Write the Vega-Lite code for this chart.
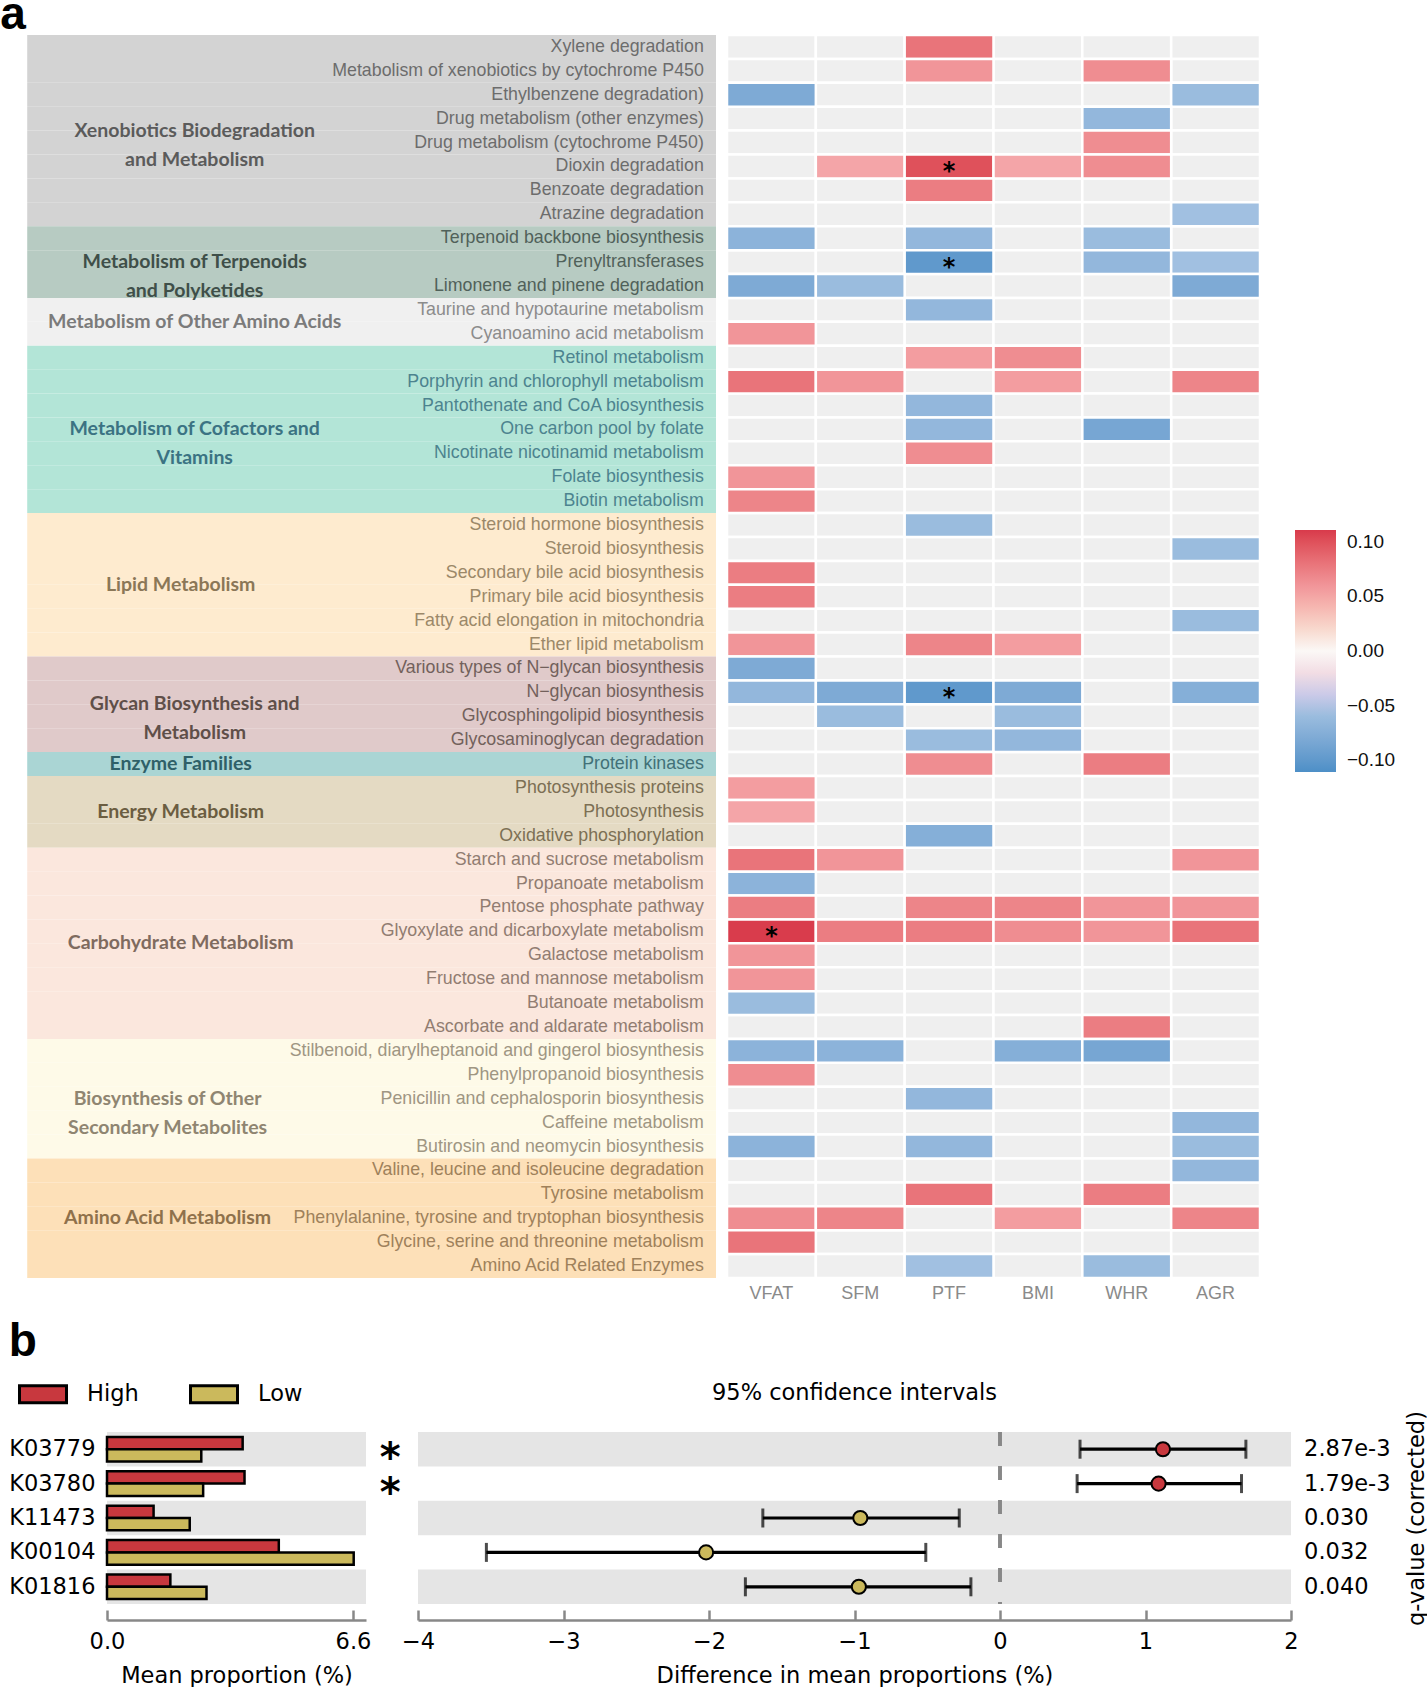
{
  "$schema": "https://vega.github.io/schema/vega-lite/v6.json",
  "padding": {"left": 0, "right": 0, "top": -8, "bottom": 0},
  "background": "white",
  "config": {"view": {"stroke": null}},
  "spacing": 17,
  "resolve": {"scale": {"fill": "independent", "color": "independent"}, "legend": {"fill": "independent", "color": "independent"}},
  "datasets": {
    "pathways": [
      {"p": "Xylene degradation", "cat": "Xenobiotics", "VFAT": 0, "SFM": 0, "PTF": 0.08, "BMI": 0, "WHR": 0, "AGR": 0},
      {"p": "Metabolism of xenobiotics by cytochrome P450", "cat": "Xenobiotics", "VFAT": 0, "SFM": 0, "PTF": 0.06, "BMI": 0, "WHR": 0.065, "AGR": 0},
      {"p": "Ethylbenzene degradation)", "cat": "Xenobiotics", "VFAT": -0.08, "SFM": 0, "PTF": 0, "BMI": 0, "WHR": 0, "AGR": -0.06},
      {"p": "Drug metabolism (other enzymes)", "cat": "Xenobiotics", "VFAT": 0, "SFM": 0, "PTF": 0, "BMI": 0, "WHR": -0.065, "AGR": 0},
      {"p": "Drug metabolism (cytochrome P450)", "cat": "Xenobiotics", "VFAT": 0, "SFM": 0, "PTF": 0, "BMI": 0, "WHR": 0.065, "AGR": 0},
      {"p": "Dioxin degradation", "cat": "Xenobiotics", "VFAT": 0, "SFM": 0.05, "PTF": 0.1, "BMI": 0.05, "WHR": 0.065, "AGR": 0, "sig": "PTF"},
      {"p": "Benzoate degradation", "cat": "Xenobiotics", "VFAT": 0, "SFM": 0, "PTF": 0.075, "BMI": 0, "WHR": 0, "AGR": 0},
      {"p": "Atrazine degradation", "cat": "Xenobiotics", "VFAT": 0, "SFM": 0, "PTF": 0, "BMI": 0, "WHR": 0, "AGR": -0.055},
      {"p": "Terpenoid backbone biosynthesis", "cat": "Terpenoids", "VFAT": -0.07, "SFM": 0, "PTF": -0.065, "BMI": 0, "WHR": -0.06, "AGR": 0},
      {"p": "Prenyltransferases", "cat": "Terpenoids", "VFAT": 0, "SFM": 0, "PTF": -0.1, "BMI": 0, "WHR": -0.065, "AGR": -0.055, "sig": "PTF"},
      {"p": "Limonene and pinene degradation", "cat": "Terpenoids", "VFAT": -0.08, "SFM": -0.06, "PTF": 0, "BMI": 0, "WHR": 0, "AGR": -0.08},
      {"p": "Taurine and hypotaurine metabolism", "cat": "OtherAA", "VFAT": 0, "SFM": 0, "PTF": -0.065, "BMI": 0, "WHR": 0, "AGR": 0},
      {"p": "Cyanoamino acid metabolism", "cat": "OtherAA", "VFAT": 0.06, "SFM": 0, "PTF": 0, "BMI": 0, "WHR": 0, "AGR": 0},
      {"p": "Retinol metabolism", "cat": "Cofactors", "VFAT": 0, "SFM": 0, "PTF": 0.055, "BMI": 0.065, "WHR": 0, "AGR": 0},
      {"p": "Porphyrin and chlorophyll metabolism", "cat": "Cofactors", "VFAT": 0.08, "SFM": 0.06, "PTF": 0, "BMI": 0.055, "WHR": 0, "AGR": 0.07},
      {"p": "Pantothenate and CoA biosynthesis", "cat": "Cofactors", "VFAT": 0, "SFM": 0, "PTF": -0.065, "BMI": 0, "WHR": 0, "AGR": 0},
      {"p": "One carbon pool by folate", "cat": "Cofactors", "VFAT": 0, "SFM": 0, "PTF": -0.065, "BMI": 0, "WHR": -0.085, "AGR": 0},
      {"p": "Nicotinate nicotinamid metabolism", "cat": "Cofactors", "VFAT": 0, "SFM": 0, "PTF": 0.065, "BMI": 0, "WHR": 0, "AGR": 0},
      {"p": "Folate biosynthesis", "cat": "Cofactors", "VFAT": 0.06, "SFM": 0, "PTF": 0, "BMI": 0, "WHR": 0, "AGR": 0},
      {"p": "Biotin metabolism", "cat": "Cofactors", "VFAT": 0.07, "SFM": 0, "PTF": 0, "BMI": 0, "WHR": 0, "AGR": 0},
      {"p": "Steroid hormone biosynthesis", "cat": "Lipid", "VFAT": 0, "SFM": 0, "PTF": -0.06, "BMI": 0, "WHR": 0, "AGR": 0},
      {"p": "Steroid biosynthesis", "cat": "Lipid", "VFAT": 0, "SFM": 0, "PTF": 0, "BMI": 0, "WHR": 0, "AGR": -0.06},
      {"p": "Secondary bile acid biosynthesis", "cat": "Lipid", "VFAT": 0.075, "SFM": 0, "PTF": 0, "BMI": 0, "WHR": 0, "AGR": 0},
      {"p": "Primary bile acid biosynthesis", "cat": "Lipid", "VFAT": 0.075, "SFM": 0, "PTF": 0, "BMI": 0, "WHR": 0, "AGR": 0},
      {"p": "Fatty acid elongation in mitochondria", "cat": "Lipid", "VFAT": 0, "SFM": 0, "PTF": 0, "BMI": 0, "WHR": 0, "AGR": -0.06},
      {"p": "Ether lipid metabolism", "cat": "Lipid", "VFAT": 0.06, "SFM": 0, "PTF": 0.07, "BMI": 0.055, "WHR": 0, "AGR": 0},
      {"p": "Various types of N−glycan biosynthesis", "cat": "Glycan", "VFAT": -0.08, "SFM": 0, "PTF": 0, "BMI": 0, "WHR": 0, "AGR": 0},
      {"p": "N−glycan biosynthesis", "cat": "Glycan", "VFAT": -0.065, "SFM": -0.08, "PTF": -0.1, "BMI": -0.08, "WHR": 0, "AGR": -0.075, "sig": "PTF"},
      {"p": "Glycosphingolipid biosynthesis", "cat": "Glycan", "VFAT": 0, "SFM": -0.06, "PTF": 0, "BMI": -0.06, "WHR": 0, "AGR": 0},
      {"p": "Glycosaminoglycan degradation", "cat": "Glycan", "VFAT": 0, "SFM": 0, "PTF": -0.06, "BMI": -0.065, "WHR": 0, "AGR": 0},
      {"p": "Protein kinases", "cat": "Enzyme", "VFAT": 0, "SFM": 0, "PTF": 0.065, "BMI": 0, "WHR": 0.075, "AGR": 0},
      {"p": "Photosynthesis proteins", "cat": "Energy", "VFAT": 0.055, "SFM": 0, "PTF": 0, "BMI": 0, "WHR": 0, "AGR": 0},
      {"p": "Photosynthesis", "cat": "Energy", "VFAT": 0.05, "SFM": 0, "PTF": 0, "BMI": 0, "WHR": 0, "AGR": 0},
      {"p": "Oxidative phosphorylation", "cat": "Energy", "VFAT": 0, "SFM": 0, "PTF": -0.075, "BMI": 0, "WHR": 0, "AGR": 0},
      {"p": "Starch and sucrose metabolism", "cat": "Carbohydrate", "VFAT": 0.08, "SFM": 0.06, "PTF": 0, "BMI": 0, "WHR": 0, "AGR": 0.06},
      {"p": "Propanoate metabolism", "cat": "Carbohydrate", "VFAT": -0.07, "SFM": 0, "PTF": 0, "BMI": 0, "WHR": 0, "AGR": 0},
      {"p": "Pentose phosphate pathway", "cat": "Carbohydrate", "VFAT": 0.075, "SFM": 0, "PTF": 0.07, "BMI": 0.07, "WHR": 0.06, "AGR": 0.06},
      {"p": "Glyoxylate and dicarboxylate metabolism", "cat": "Carbohydrate", "VFAT": 0.11, "SFM": 0.075, "PTF": 0.075, "BMI": 0.065, "WHR": 0.06, "AGR": 0.08, "sig": "VFAT"},
      {"p": "Galactose metabolism", "cat": "Carbohydrate", "VFAT": 0.06, "SFM": 0, "PTF": 0, "BMI": 0, "WHR": 0, "AGR": 0},
      {"p": "Fructose and mannose metabolism", "cat": "Carbohydrate", "VFAT": 0.06, "SFM": 0, "PTF": 0, "BMI": 0, "WHR": 0, "AGR": 0},
      {"p": "Butanoate metabolism", "cat": "Carbohydrate", "VFAT": -0.06, "SFM": 0, "PTF": 0, "BMI": 0, "WHR": 0, "AGR": 0},
      {"p": "Ascorbate and aldarate metabolism", "cat": "Carbohydrate", "VFAT": 0, "SFM": 0, "PTF": 0, "BMI": 0, "WHR": 0.075, "AGR": 0},
      {"p": "Stilbenoid, diarylheptanoid and gingerol biosynthesis", "cat": "SecMet", "VFAT": -0.07, "SFM": -0.07, "PTF": 0, "BMI": -0.075, "WHR": -0.085, "AGR": 0},
      {"p": "Phenylpropanoid biosynthesis", "cat": "SecMet", "VFAT": 0.065, "SFM": 0, "PTF": 0, "BMI": 0, "WHR": 0, "AGR": 0},
      {"p": "Penicillin and cephalosporin biosynthesis", "cat": "SecMet", "VFAT": 0, "SFM": 0, "PTF": -0.065, "BMI": 0, "WHR": 0, "AGR": 0},
      {"p": "Caffeine metabolism", "cat": "SecMet", "VFAT": 0, "SFM": 0, "PTF": 0, "BMI": 0, "WHR": 0, "AGR": -0.065},
      {"p": "Butirosin and neomycin biosynthesis", "cat": "SecMet", "VFAT": -0.07, "SFM": 0, "PTF": -0.065, "BMI": 0, "WHR": 0, "AGR": -0.06},
      {"p": "Valine, leucine and isoleucine degradation", "cat": "AminoAcid", "VFAT": 0, "SFM": 0, "PTF": 0, "BMI": 0, "WHR": 0, "AGR": -0.065},
      {"p": "Tyrosine metabolism", "cat": "AminoAcid", "VFAT": 0, "SFM": 0, "PTF": 0.08, "BMI": 0, "WHR": 0.075, "AGR": 0},
      {"p": "Phenylalanine, tyrosine and tryptophan biosynthesis", "cat": "AminoAcid", "VFAT": 0.065, "SFM": 0.07, "PTF": 0, "BMI": 0.055, "WHR": 0, "AGR": 0.07},
      {"p": "Glycine, serine and threonine metabolism", "cat": "AminoAcid", "VFAT": 0.08, "SFM": 0, "PTF": 0, "BMI": 0, "WHR": 0, "AGR": 0},
      {"p": "Amino Acid Related Enzymes", "cat": "AminoAcid", "VFAT": 0, "SFM": 0, "PTF": -0.055, "BMI": 0, "WHR": -0.06, "AGR": 0}
    ],
    "cats": [
      {"cat": "Xenobiotics", "label": "Xenobiotics Biodegradation|and Metabolism", "mid": "Drug metabolism (cytochrome P450)"},
      {"cat": "Terpenoids", "label": "Metabolism of Terpenoids|and Polyketides", "mid": "Prenyltransferases"},
      {"cat": "OtherAA", "label": "Metabolism of Other Amino Acids", "mid": "Cyanoamino acid metabolism"},
      {"cat": "Cofactors", "label": "Metabolism of Cofactors and|Vitamins", "mid": "One carbon pool by folate"},
      {"cat": "Lipid", "label": "Lipid Metabolism", "mid": "Primary bile acid biosynthesis"},
      {"cat": "Glycan", "label": "Glycan Biosynthesis and|Metabolism", "mid": "Glycosphingolipid biosynthesis"},
      {"cat": "Enzyme", "label": "Enzyme Families", "mid": "Protein kinases"},
      {"cat": "Energy", "label": "Energy Metabolism", "mid": "Photosynthesis"},
      {"cat": "Carbohydrate", "label": "Carbohydrate Metabolism", "mid": "Galactose metabolism"},
      {"cat": "SecMet", "label": "Biosynthesis of Other|Secondary Metabolites", "mid": "Penicillin and cephalosporin biosynthesis"},
      {"cat": "AminoAcid", "label": "Amino Acid Metabolism", "mid": "Phenylalanine, tyrosine and tryptophan biosynthesis"}
    ],
    "features": [
      {"k": "K03779", "High": 3.64, "Low": 2.53, "diff": 1.12, "lo": 0.55, "hi": 1.69, "q": "2.87e-3", "sig": "*", "grp": "High"},
      {"k": "K03780", "High": 3.69, "Low": 2.58, "diff": 1.09, "lo": 0.53, "hi": 1.66, "q": "1.79e-3", "sig": "*", "grp": "High"},
      {"k": "K11473", "High": 1.25, "Low": 2.22, "diff": -0.96, "lo": -1.63, "hi": -0.28, "q": "0.030", "sig": "", "grp": "Low"},
      {"k": "K00104", "High": 4.61, "Low": 6.62, "diff": -2.02, "lo": -3.53, "hi": -0.51, "q": "0.032", "sig": "", "grp": "Low"},
      {"k": "K01816", "High": 1.7, "Low": 2.67, "diff": -0.97, "lo": -1.75, "hi": -0.2, "q": "0.040", "sig": "", "grp": "Low"}
    ]
  },
  "vconcat": [
    {
      "title": {"text": "a", "anchor": "start", "fontSize": 46, "fontWeight": "bold", "font": "Liberation Sans", "color": "black", "offset": -5.4, "dx": -27},
      "spacing": 9,
      "resolve": {"scale": {"fill": "independent", "color": "independent"}, "legend": {"fill": "independent", "color": "independent"}},
      "hconcat": [
        {
          "width": 609,
          "height": 1243,
          "layer": [
            {
              "data": {"name": "pathways"},
              "mark": {"type": "rect"},
              "encoding": {
                "y": {"field": "p", "type": "nominal", "axis": null,
                  "scale": {"paddingInner": 0, "paddingOuter": 0, "domain": ["Xylene degradation", "Metabolism of xenobiotics by cytochrome P450", "Ethylbenzene degradation)", "Drug metabolism (other enzymes)", "Drug metabolism (cytochrome P450)", "Dioxin degradation", "Benzoate degradation", "Atrazine degradation", "Terpenoid backbone biosynthesis", "Prenyltransferases", "Limonene and pinene degradation", "Taurine and hypotaurine metabolism", "Cyanoamino acid metabolism", "Retinol metabolism", "Porphyrin and chlorophyll metabolism", "Pantothenate and CoA biosynthesis", "One carbon pool by folate", "Nicotinate nicotinamid metabolism", "Folate biosynthesis", "Biotin metabolism", "Steroid hormone biosynthesis", "Steroid biosynthesis", "Secondary bile acid biosynthesis", "Primary bile acid biosynthesis", "Fatty acid elongation in mitochondria", "Ether lipid metabolism", "Various types of N−glycan biosynthesis", "N−glycan biosynthesis", "Glycosphingolipid biosynthesis", "Glycosaminoglycan degradation", "Protein kinases", "Photosynthesis proteins", "Photosynthesis", "Oxidative phosphorylation", "Starch and sucrose metabolism", "Propanoate metabolism", "Pentose phosphate pathway", "Glyoxylate and dicarboxylate metabolism", "Galactose metabolism", "Fructose and mannose metabolism", "Butanoate metabolism", "Ascorbate and aldarate metabolism", "Stilbenoid, diarylheptanoid and gingerol biosynthesis", "Phenylpropanoid biosynthesis", "Penicillin and cephalosporin biosynthesis", "Caffeine metabolism", "Butirosin and neomycin biosynthesis", "Valine, leucine and isoleucine degradation", "Tyrosine metabolism", "Phenylalanine, tyrosine and tryptophan biosynthesis", "Glycine, serine and threonine metabolism", "Amino Acid Related Enzymes"]}},
                "x": {"datum": -13.1, "type": "quantitative", "scale": {"domain": [0, 100], "nice": false, "zero": false}, "axis": null},
                "x2": {"datum": 100},
                "fill": {"field": "cat", "type": "nominal", "legend": null,
                  "scale": {"domain": ["Xenobiotics", "Terpenoids", "OtherAA", "Cofactors", "Lipid", "Glycan", "Enzyme", "Energy", "Carbohydrate", "SecMet", "AminoAcid"],
                            "range": ["#d3d3d3", "#b7cbc2", "#f0f0f0", "#b3e5d7", "#feebcf", "#e0caca", "#aad5d4", "#e4dac3", "#fbe7dd", "#fefae8", "#fde0b8"]}}
              }
            },
            {
              "data": {"name": "pathways"},
              "mark": {"type": "text", "align": "right", "baseline": "middle", "font": "Liberation Sans", "fontSize": 17.8, "opacity": 0.85},
              "encoding": {
                "y": {"field": "p", "type": "nominal"},
                "x": {"datum": 98.0, "type": "quantitative"},
                "text": {"field": "p"},
                "color": {"field": "cat", "type": "nominal", "legend": null,
                  "scale": {"domain": ["Xenobiotics", "Terpenoids", "OtherAA", "Cofactors", "Lipid", "Glycan", "Enzyme", "Energy", "Carbohydrate", "SecMet", "AminoAcid"],
                            "range": ["#5b5b5b", "#3f4f49", "#7b7b7b", "#3b7383", "#8b7757", "#5f4f49", "#2f6068", "#6b5d41", "#7f6b5f", "#8f8571", "#8f714b"]}}
              }
            },
            {
              "data": {"name": "cats"},
              "transform": [{"filter": {"field": "cat", "oneOf": ["Xenobiotics", "OtherAA", "Glycan"]}}],
              "mark": {"type": "text", "align": "center", "baseline": "middle", "font": "Lato", "fontWeight": "bold", "fontSize": 19.5, "lineBreak": "|", "lineHeight": 29},
              "encoding": {
                "y": {"field": "mid", "type": "nominal", "bandPosition": 0},
                "x": {"datum": 14.4, "type": "quantitative"},
                "text": {"field": "label"},
                "color": {"field": "cat", "type": "nominal", "legend": null}
              }
            },
            {
              "data": {"name": "cats"},
              "transform": [{"filter": {"field": "cat", "oneOf": ["Lipid", "Carbohydrate"]}}],
              "mark": {"type": "text", "align": "center", "baseline": "middle", "font": "Lato", "fontWeight": "bold", "fontSize": 19.5, "lineBreak": "|", "lineHeight": 29},
              "encoding": {
                "y": {"field": "mid", "type": "nominal", "bandPosition": 0},
                "x": {"datum": 12.1, "type": "quantitative"},
                "text": {"field": "label"},
                "color": {"field": "cat", "type": "nominal", "legend": null}
              }
            },
            {
              "data": {"name": "cats"},
              "transform": [{"filter": {"field": "cat", "oneOf": ["Terpenoids", "Cofactors"]}}],
              "mark": {"type": "text", "align": "center", "baseline": "middle", "font": "Lato", "fontWeight": "bold", "fontSize": 19.5, "lineBreak": "|", "lineHeight": 29},
              "encoding": {
                "y": {"field": "mid", "type": "nominal", "bandPosition": 0.5},
                "x": {"datum": 14.4, "type": "quantitative"},
                "text": {"field": "label"},
                "color": {"field": "cat", "type": "nominal", "legend": null}
              }
            },
            {
              "data": {"name": "cats"},
              "transform": [{"filter": {"field": "cat", "oneOf": ["Enzyme", "Energy"]}}],
              "mark": {"type": "text", "align": "center", "baseline": "middle", "font": "Lato", "fontWeight": "bold", "fontSize": 19.5, "lineBreak": "|", "lineHeight": 29},
              "encoding": {
                "y": {"field": "mid", "type": "nominal", "bandPosition": 0.5},
                "x": {"datum": 12.1, "type": "quantitative"},
                "text": {"field": "label"},
                "color": {"field": "cat", "type": "nominal", "legend": null}
              }
            },
            {
              "data": {"name": "cats"},
              "transform": [{"filter": {"field": "cat", "oneOf": ["SecMet", "AminoAcid"]}}],
              "mark": {"type": "text", "align": "center", "baseline": "middle", "font": "Lato", "fontWeight": "bold", "fontSize": 19.5, "lineBreak": "|", "lineHeight": 29},
              "encoding": {
                "y": {"field": "mid", "type": "nominal", "bandPosition": 0.5},
                "x": {"datum": 9.95, "type": "quantitative"},
                "text": {"field": "label"},
                "color": {"field": "cat", "type": "nominal", "legend": null}
              }
            }
          ]
        },
        {
          "width": 533,
          "height": 1243,
          "data": {"name": "pathways"},
          "transform": [{"fold": ["VFAT", "SFM", "PTF", "BMI", "WHR", "AGR"], "as": ["trait", "r"]}],
          "encoding": {
            "x": {"field": "trait", "type": "nominal",
              "scale": {"domain": ["VFAT", "SFM", "PTF", "BMI", "WHR", "AGR"], "paddingInner": 0, "paddingOuter": 0},
              "axis": {"orient": "bottom", "title": null, "labelAngle": 0, "domain": false, "ticks": false, "labelColor": "#8a8a8a", "labelFontSize": 18, "labelFont": "Liberation Sans", "labelPadding": 6}},
            "y": {"field": "p", "type": "nominal", "axis": null,
              "scale": {"paddingInner": 0, "paddingOuter": 0, "domain": ["Xylene degradation", "Metabolism of xenobiotics by cytochrome P450", "Ethylbenzene degradation)", "Drug metabolism (other enzymes)", "Drug metabolism (cytochrome P450)", "Dioxin degradation", "Benzoate degradation", "Atrazine degradation", "Terpenoid backbone biosynthesis", "Prenyltransferases", "Limonene and pinene degradation", "Taurine and hypotaurine metabolism", "Cyanoamino acid metabolism", "Retinol metabolism", "Porphyrin and chlorophyll metabolism", "Pantothenate and CoA biosynthesis", "One carbon pool by folate", "Nicotinate nicotinamid metabolism", "Folate biosynthesis", "Biotin metabolism", "Steroid hormone biosynthesis", "Steroid biosynthesis", "Secondary bile acid biosynthesis", "Primary bile acid biosynthesis", "Fatty acid elongation in mitochondria", "Ether lipid metabolism", "Various types of N−glycan biosynthesis", "N−glycan biosynthesis", "Glycosphingolipid biosynthesis", "Glycosaminoglycan degradation", "Protein kinases", "Photosynthesis proteins", "Photosynthesis", "Oxidative phosphorylation", "Starch and sucrose metabolism", "Propanoate metabolism", "Pentose phosphate pathway", "Glyoxylate and dicarboxylate metabolism", "Galactose metabolism", "Fructose and mannose metabolism", "Butanoate metabolism", "Ascorbate and aldarate metabolism", "Stilbenoid, diarylheptanoid and gingerol biosynthesis", "Phenylpropanoid biosynthesis", "Penicillin and cephalosporin biosynthesis", "Caffeine metabolism", "Butirosin and neomycin biosynthesis", "Valine, leucine and isoleucine degradation", "Tyrosine metabolism", "Phenylalanine, tyrosine and tryptophan biosynthesis", "Glycine, serine and threonine metabolism", "Amino Acid Related Enzymes"]}}
          },
          "layer": [
            {"mark": {"type": "rect", "fill": "#efefef", "stroke": "white", "strokeWidth": 2.5}},
            {
              "transform": [{"filter": "datum.r != 0"}],
              "mark": {"type": "rect", "stroke": "white", "strokeWidth": 2.5},
              "encoding": {
                "fill": {"field": "r", "type": "quantitative",
                  "scale": {"type": "linear", "domain": [-0.111, -0.05, 0, 0.05, 0.111], "range": ["#4d8fc7", "#a8c5e3", "#fbf8f6", "#f4a5a8", "#d83a4b"]},
                  "legend": {"orient": "none", "legendX": 568, "legendY": 495, "direction": "vertical", "title": null, "gradientLength": 242, "gradientThickness": 41, "gradientStrokeWidth": 0, "values": [0.1, 0.05, 0, -0.05, -0.1], "format": ".2f", "labelFontSize": 19, "labelFont": "Liberation Sans", "labelColor": "#111", "labelOffset": 11}}
              }
            },
            {
              "transform": [{"filter": "datum.sig == datum.trait"}],
              "mark": {"type": "text", "text": "*", "font": "DejaVu Sans", "fontWeight": "bold", "fontSize": 24, "baseline": "alphabetic", "dy": 13, "color": "black"}
            }
          ]
        }
      ]
    },
    {
      "title": {"text": "b", "anchor": "start", "fontSize": 46, "fontWeight": "bold", "font": "Liberation Sans", "color": "black", "offset": 3},
      "spacing": 0,
      "resolve": {"scale": {"fill": "independent", "color": "independent"}, "legend": {"fill": "independent", "color": "independent"}},
      "hconcat": [
        {
          "width": 259,
          "height": 172,
          "data": {"name": "features"},
          "layer": [
            {
              "transform": [{"filter": {"field": "k", "oneOf": ["K03779", "K11473", "K01816"]}}],
              "mark": {"type": "rect", "fill": "#e5e5e5"},
              "encoding": {
                "y": {"field": "k", "type": "nominal", "title": null,
                  "scale": {"domain": ["K03779", "K03780", "K11473", "K00104", "K01816"], "paddingInner": 0, "paddingOuter": 0},
                  "axis": {"ticks": false, "domain": false, "labelFontSize": 22.5, "labelFont": "DejaVu Sans", "labelColor": "black", "labelPadding": 12}},
                "x": {"datum": 0, "type": "quantitative",
                  "scale": {"domain": [0, 6.95], "nice": false},
                  "axis": {"values": [0, 6.6], "format": ".1f", "offset": 16, "grid": false, "domainColor": "#888", "domainWidth": 2.5, "tickColor": "#888", "tickWidth": 2.5, "tickSize": -10, "labelFontSize": 22.5, "labelFont": "DejaVu Sans", "labelColor": "black", "labelPadding": 20, "labelFlush": false, "title": "Mean proportion (%)", "titleFontSize": 22.5, "titleFont": "DejaVu Sans", "titleFontWeight": "normal", "titleColor": "black", "titlePadding": 12}},
                "x2": {"datum": 6.95}
              }
            },
            {
              "transform": [{"fold": ["High", "Low"], "as": ["group", "mean"]}],
              "mark": {"type": "bar", "stroke": "black", "strokeWidth": 2.5},
              "encoding": {
                "y": {"field": "k", "type": "nominal"},
                "yOffset": {"field": "group", "type": "nominal", "scale": {"domain": ["High", "Low"], "paddingOuter": 0.4, "paddingInner": 0}},
                "x": {"field": "mean", "type": "quantitative"},
                "fill": {"field": "group", "type": "nominal",
                  "scale": {"domain": ["High", "Low"], "range": ["#c8383e", "#cbb95c"]},
                  "legend": {"orient": "none", "legendX": -89, "legendY": -63, "direction": "horizontal", "title": null, "symbolType": "M-1,-0.36H1V0.36H-1Z", "symbolSize": 2209, "symbolStrokeColor": "black", "symbolStrokeWidth": 3, "symbolOpacity": 1, "labelFontSize": 22.5, "labelFont": "DejaVu Sans", "labelColor": "black", "labelOffset": 19, "columnPadding": 45}}
              }
            },
            {
              "mark": {"type": "text", "font": "DejaVu Sans", "fontWeight": "bold", "fontSize": 40, "baseline": "alphabetic", "dy": 22, "color": "black"},
              "encoding": {
                "y": {"field": "k", "type": "nominal"},
                "x": {"datum": 7.6, "type": "quantitative"},
                "text": {"field": "sig"}
              }
            }
          ]
        },
        {
          "width": 873,
          "height": 172,
          "title": {"text": "95% confidence intervals", "fontSize": 22.5, "font": "DejaVu Sans", "fontWeight": "normal", "color": "black", "anchor": "middle", "offset": 6},
          "data": {"name": "features"},
          "layer": [
            {
              "transform": [{"filter": {"field": "k", "oneOf": ["K03779", "K11473", "K01816"]}}],
              "mark": {"type": "rect", "fill": "#e5e5e5"},
              "encoding": {
                "y": {"field": "k", "type": "nominal",
                  "scale": {"domain": ["K03779", "K03780", "K11473", "K00104", "K01816"], "paddingInner": 0, "paddingOuter": 0},
                  "axis": {"orient": "right", "labels": false, "ticks": false, "domain": false, "title": "q-value (corrected)", "titleAngle": 270, "titleFontSize": 22.5, "titleFont": "DejaVu Sans", "titleFontWeight": "normal", "titleColor": "black", "titlePadding": 137}},
                "x": {"datum": -4, "type": "quantitative",
                  "scale": {"domain": [-4, 2], "nice": false, "zero": false},
                  "axis": {"values": [-4, -3, -2, -1, 0, 1, 2], "format": "d", "offset": 16, "grid": false, "domainColor": "#888", "domainWidth": 2.5, "tickColor": "#888", "tickWidth": 2.5, "tickSize": -10, "labelFontSize": 22.5, "labelFont": "DejaVu Sans", "labelColor": "black", "labelPadding": 20, "labelFlush": false, "title": "Difference in mean proportions (%)", "titleFontSize": 22.5, "titleFont": "DejaVu Sans", "titleFontWeight": "normal", "titleColor": "black", "titlePadding": 12}},
                "x2": {"datum": 2}
              }
            },
            {
              "mark": {"type": "rule", "color": "#888", "strokeWidth": 3, "strokeDash": [14, 20]},
              "encoding": {"x": {"datum": 0, "type": "quantitative"}}
            },
            {
              "mark": {"type": "rule", "color": "black", "strokeWidth": 3.2},
              "encoding": {
                "y": {"field": "k", "type": "nominal"},
                "x": {"field": "lo", "type": "quantitative"},
                "x2": {"field": "hi"}
              }
            },
            {
              "mark": {"type": "tick", "orient": "vertical", "size": 19, "thickness": 3, "color": "black"},
              "encoding": {
                "y": {"field": "k", "type": "nominal"},
                "x": {"field": "lo", "type": "quantitative"}
              }
            },
            {
              "mark": {"type": "tick", "orient": "vertical", "size": 19, "thickness": 3, "color": "black"},
              "encoding": {
                "y": {"field": "k", "type": "nominal"},
                "x": {"field": "hi", "type": "quantitative"}
              }
            },
            {
              "mark": {"type": "point", "shape": "circle", "filled": true, "size": 200, "stroke": "black", "strokeWidth": 2, "opacity": 1},
              "encoding": {
                "y": {"field": "k", "type": "nominal"},
                "x": {"field": "diff", "type": "quantitative"},
                "fill": {"field": "grp", "type": "nominal", "scale": {"domain": ["High", "Low"], "range": ["#c8383e", "#cbb95c"]}, "legend": null}
              }
            },
            {
              "mark": {"type": "text", "align": "left", "baseline": "middle", "fontSize": 22.5, "font": "DejaVu Sans", "color": "black"},
              "encoding": {
                "y": {"field": "k", "type": "nominal"},
                "x": {"datum": 2.09, "type": "quantitative"},
                "text": {"field": "q"}
              }
            }
          ]
        }
      ]
    }
  ]
}
